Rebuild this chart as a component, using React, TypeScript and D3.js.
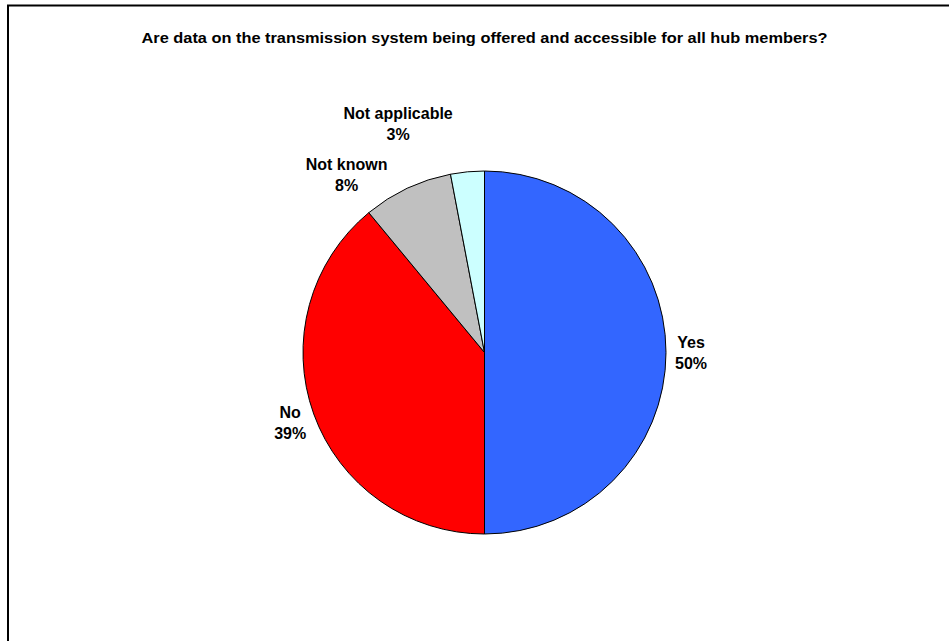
import React from "react";
import * as d3 from "d3";

const categories = ["Yes", "No", "Not known", "Not applicable"];
const values = [50, 39, 8, 3];
const percentLabels = ["50%", "39%", "8%", "3%"];
const colors = ["#3366FF", "#FF0000", "#C0C0C0", "#CCFFFF"];
const title = "Are data on the transmission system being offered and accessible for all hub members?";

// label nudges relative to a radial anchor just outside the pie
const labelNudgeX = [0, 0, -50, -67];
const labelNudgeY = [0, 0, 9, -23];

const W = 949;
const H = 641;

export default function App() {
  const cx = 484.5;
  const cy = 352.5;
  const r = 181.5;
  const data = categories.map((c, i) => ({ c, v: values[i], p: percentLabels[i], col: colors[i] }));
  const pie = d3.pie<any>().value((d: any) => d.v).sort(null);
  const arcs = pie(data);
  const arcGen = d3.arc<any>().innerRadius(0).outerRadius(r);
  const labelR = r + 25;
  const font = "'Liberation Sans', Arial, Helvetica, sans-serif";
  return (
    <svg width={W} height={H} style={{ position: "absolute", left: 0, top: 0 }}>
      <rect x={0} y={0} width={W} height={H} fill="#fff" />
      <line x1={7} y1={5.5} x2={W} y2={5.5} stroke="#000" strokeWidth={2} />
      <line x1={8} y1={5} x2={8} y2={H} stroke="#000" strokeWidth={2} />
      <text x={cx} y={43} textAnchor="middle" fontFamily={font} fontWeight="bold" fontSize={15.5}
        textLength={686} lengthAdjust="spacingAndGlyphs" fill="#000">
        {title}
      </text>
      <g transform={`translate(${cx},${cy})`}>
        {arcs.map((a, i) => (
          <path key={i} d={arcGen(a) as string} fill={a.data.col} stroke="#000" strokeWidth={1} />
        ))}
        {arcs.map((a, i) => {
          const mid = (a.startAngle + a.endAngle) / 2;
          const x = Math.sin(mid) * labelR + labelNudgeX[i];
          const y = -Math.cos(mid) * labelR + labelNudgeY[i];
          return (
            <text key={"l" + i} textAnchor="middle" fontFamily={font} fontWeight="bold" fontSize={16} fill="#000">
              <tspan x={x} y={y - 4.5}>{a.data.c}</tspan>
              <tspan x={x} dy={21}>{a.data.p}</tspan>
            </text>
          );
        })}
      </g>
    </svg>
  );
}
